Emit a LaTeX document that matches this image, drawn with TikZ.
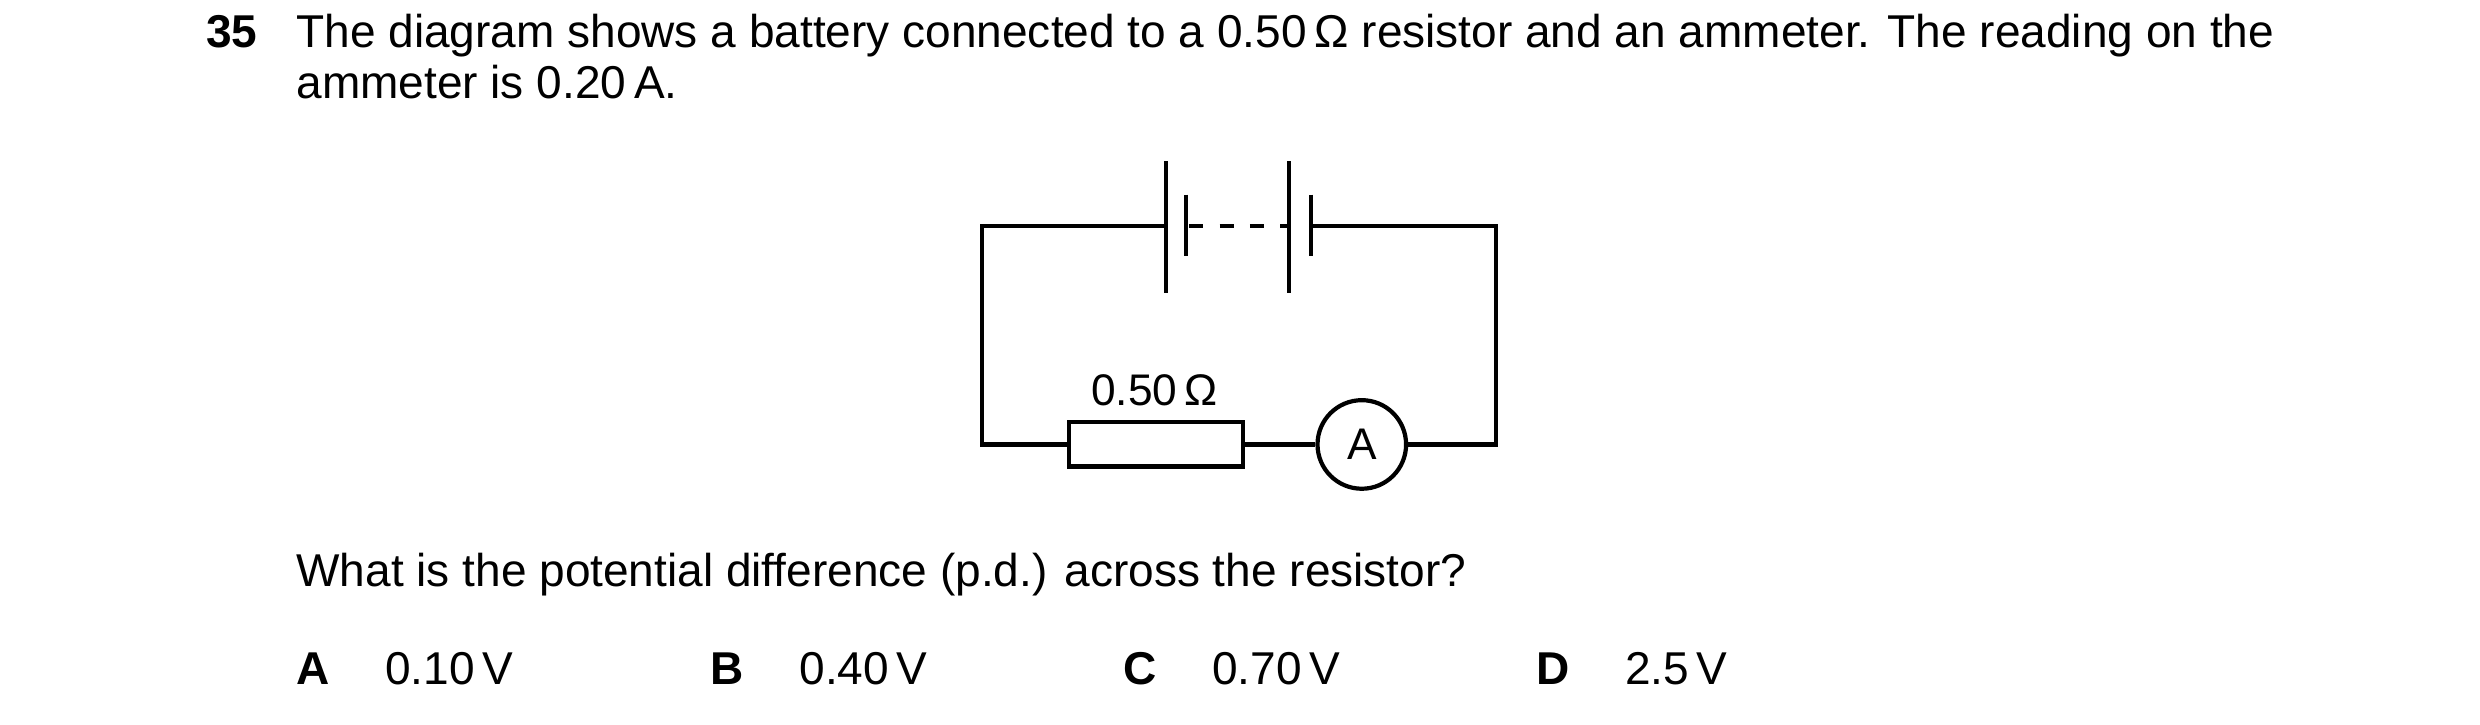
\documentclass[tikz,border=0pt]{standalone}
\usepackage{fontspec}
\setmainfont{Liberation Sans}
\begin{document}
\begin{tikzpicture}[x=0.01582cm,y=-0.01582cm,
  txt/.style={anchor=base west,inner sep=0,font=\fontsize{13.1pt}{16pt}\selectfont},
  btxt/.style={txt,font=\fontsize{13.1pt}{16pt}\selectfont\bfseries},
  lbl/.style={inner sep=0,font=\fontsize{12.6pt}{15pt}\selectfont},
  w/.style={line width=1.2pt}]
\useasboundingbox (0,0) rectangle (1568,458);
\node[btxt] (q) at (130,30) {35};
\node[txt] (l1) at (187,30) {The diagram shows a battery connected to a 0.50\,Ω resistor and an ammeter. The reading on the};
\node[txt] (l2) at (187,62) {ammeter is 0.20\,A.};
% circuit
\coordinate (tl) at (621,143); \coordinate (tr) at (946,143);
\coordinate (bl) at (621,281); \coordinate (br) at (946,281);
\coordinate (p1) at (737,143); \coordinate (p4) at (829,143);
\draw[w] (p1) -- (tl) -- (bl) -- (676,281);
\draw[w] (p4) -- (tr) -- (br) -- (889,281);
\draw[w] (737,102) -- (737,185);
\draw[w] (750,123) -- (750,162);
\draw[w] (815,102) -- (815,185);
\draw[w] (829,123) -- (829,162);
\draw[w,dash pattern=on 4pt off 4.6pt] (752,143) -- (815,143);
\node[draw,w,minimum width=110*0.01582cm,minimum height=28*0.01582cm,inner sep=0] (R) at (731,281) {};
\node[draw,w,circle,minimum size=56*0.01582cm,inner sep=0,lbl] (A) at (861,281) {A};
\draw[w] (R.east) -- (A.west);
\node[lbl] (rl) at (730,247) {0.50\,Ω};
\node[txt] (q2) at (187,371) {What is the potential difference (p.d.) across the resistor?};
\node[btxt] (oA) at (187,433) {A};
\node[txt] (vA) at (243,433) {0.10\,V};
\node[btxt] (oB) at (449,433) {B};
\node[txt] (vB) at (505,433) {0.40\,V};
\node[btxt] (oC) at (710,433) {C};
\node[txt] (vC) at (766,433) {0.70\,V};
\node[btxt] (oD) at (971,433) {D};
\node[txt] (vD) at (1027,433) {2.5\,V};
\end{tikzpicture}
\end{document}
